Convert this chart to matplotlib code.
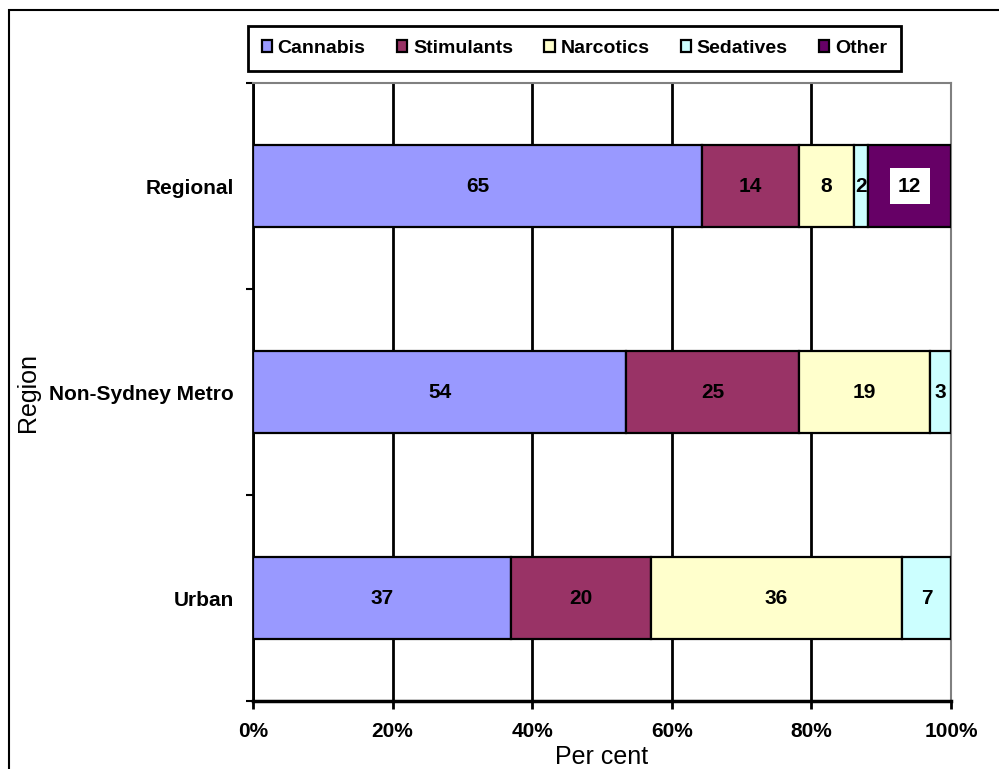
import numpy as np
import matplotlib.pyplot as plt
from matplotlib.patches import Rectangle

plt.rcParams['font.family'] = ['Liberation Sans', 'DejaVu Sans']

regions = ['Regional', 'Non-Sydney Metro', 'Urban']
drugs = ['Cannabis', 'Stimulants', 'Narcotics', 'Sedatives', 'Other']
colors = ['#9999FF', '#993366', '#FFFFCC', '#CCFFFF', '#660066']

cannabis = [65, 54, 37]
stimulants = [14, 25, 20]
narcotics = [8, 19, 36]
sedatives = [2, 3, 7]
other = [12, 0, 0]

series = np.array([cannabis, stimulants, narcotics, sedatives, other], dtype=float)
totals = series.sum(axis=0)
shares = series / totals * 100

fig = plt.figure(figsize=(9.99, 7.69), dpi=100)
ax = fig.add_axes([253 / 999, 68 / 769, 698 / 999, 618 / 769])

# outer chart frame, runs off the right and bottom of the canvas
fig.patches.append(Rectangle((9 / 999, -0.1), 1.2, 1 - 10 / 769 + 0.1,
                             transform=fig.transFigure, fill=False,
                             edgecolor='black', linewidth=1.5))

y = np.arange(len(regions))
left = np.zeros(len(regions))
handles = []
for k, name in enumerate(drugs):
    bars = ax.barh(y, shares[k], left=left, height=0.4, color=colors[k],
                   edgecolor='black', linewidth=1.6, label=name, zorder=3)
    handles.append(bars)
    for i in range(len(regions)):
        v = series[k, i]
        if v == 0:
            continue
        cx = left[i] + shares[k, i] / 2
        if name == 'Other':
            ax.text(cx, y[i], '%d' % v, ha='center', va='center', fontsize=15,
                    fontweight='bold', zorder=5,
                    bbox=dict(boxstyle='square,pad=0.4', facecolor='white',
                              edgecolor='none'))
        else:
            ax.text(cx, y[i], '%d' % v, ha='center', va='center', fontsize=15,
                    fontweight='bold', zorder=5)
    left += shares[k]

ax.set_xlim(0, 100)
ax.set_ylim(2.5, -0.5)
ax.set_xticks(np.arange(0, 101, 20))
ax.set_xticklabels(['%d%%' % t for t in range(0, 101, 20)], fontsize=15,
                   fontweight='bold')
ax.set_yticks(y)
ax.set_yticklabels(regions, fontsize=15, fontweight='bold')
ax.set_yticks([-0.5, 0.5, 1.5, 2.5], minor=True)
ax.tick_params(axis='y', which='major', length=0, pad=14)
ax.tick_params(axis='y', which='minor', length=5, width=1.5, direction='out')
ax.tick_params(axis='x', length=6, width=2, direction='out', pad=9)

ax.grid(axis='x', color='black', linewidth=2, zorder=0)
ax.set_axisbelow(True)

ax.spines['bottom'].set_linewidth(2.5)
ax.spines['left'].set_linewidth(2)
for s in ('top', 'right'):
    ax.spines[s].set_color('#808080')
    ax.spines[s].set_linewidth(1.5)

ax.set_xlabel('Per cent', fontsize=18, labelpad=3)
ax.set_ylabel('Region', fontsize=18)
ax.yaxis.set_label_coords(-0.305, 0.5)

leg = fig.legend(handles=handles, labels=drugs, loc='center',
                 bbox_to_anchor=(574.5 / 999, 1 - 48.5 / 769), ncol=5,
                 prop={'weight': 'bold', 'size': 14}, frameon=True,
                 fancybox=False, edgecolor='black', framealpha=1,
                 handlelength=0.52, handleheight=0.52, handletextpad=0.3,
                 columnspacing=1.62, borderpad=0.7)
leg.get_frame().set_linewidth(2)

fig.savefig('out.png', dpi=100)
